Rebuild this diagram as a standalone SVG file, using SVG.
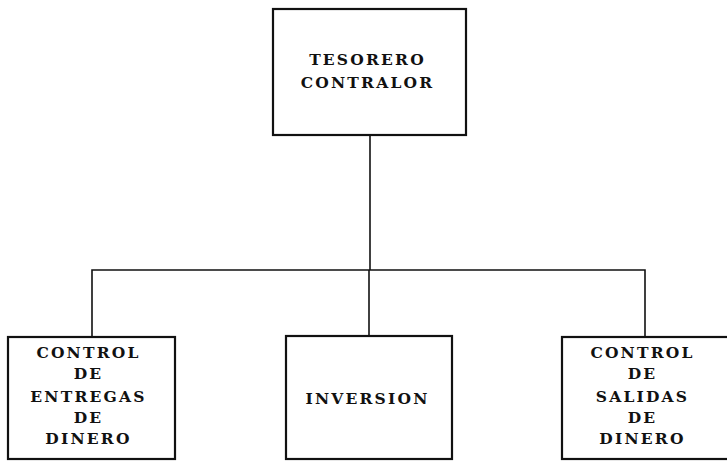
<svg xmlns="http://www.w3.org/2000/svg" width="727" height="461" viewBox="0 0 727 461">
<style>
.box{fill:#fff;stroke:#111;stroke-width:2.2}
.lbl{font-family:"DejaVu Serif","Liberation Serif",serif;font-weight:bold;font-size:15.5px;letter-spacing:2.2px;fill:#111;text-anchor:middle}
.con{fill:none;stroke:#111;stroke-width:1.6}
</style>
<rect width="727" height="461" fill="#fff"/>
<g id="connectors">
<path class="con" d="M370 135 V270"/>
<path class="con" d="M92 337 V270 H645 V337"/>
<path class="con" d="M369 270 V336"/>
</g>
<g id="tesorero">
<rect class="box" x="273" y="9" width="193" height="126"/>
<text class="lbl" x="367.5" y="65">TESORERO</text>
<text class="lbl" x="367.5" y="88">CONTRALOR</text>
</g>
<g id="entregas">
<rect class="box" x="8" y="337" width="167" height="122"/>
<text class="lbl" x="88.5" y="358">CONTROL</text>
<text class="lbl" x="88.5" y="379">DE</text>
<text class="lbl" x="88.5" y="402">ENTREGAS</text>
<text class="lbl" x="88.5" y="423">DE</text>
<text class="lbl" x="88.5" y="444">DINERO</text>
</g>
<g id="inversion">
<rect class="box" x="286" y="336" width="166" height="123"/>
<text class="lbl" x="367.5" y="404">INVERSION</text>
</g>
<g id="salidas">
<rect class="box" x="562" y="337" width="170" height="122"/>
<text class="lbl" x="642.5" y="358">CONTROL</text>
<text class="lbl" x="642.5" y="379">DE</text>
<text class="lbl" x="642.5" y="402">SALIDAS</text>
<text class="lbl" x="642.5" y="423">DE</text>
<text class="lbl" x="642.5" y="444">DINERO</text>
</g>
</svg>
